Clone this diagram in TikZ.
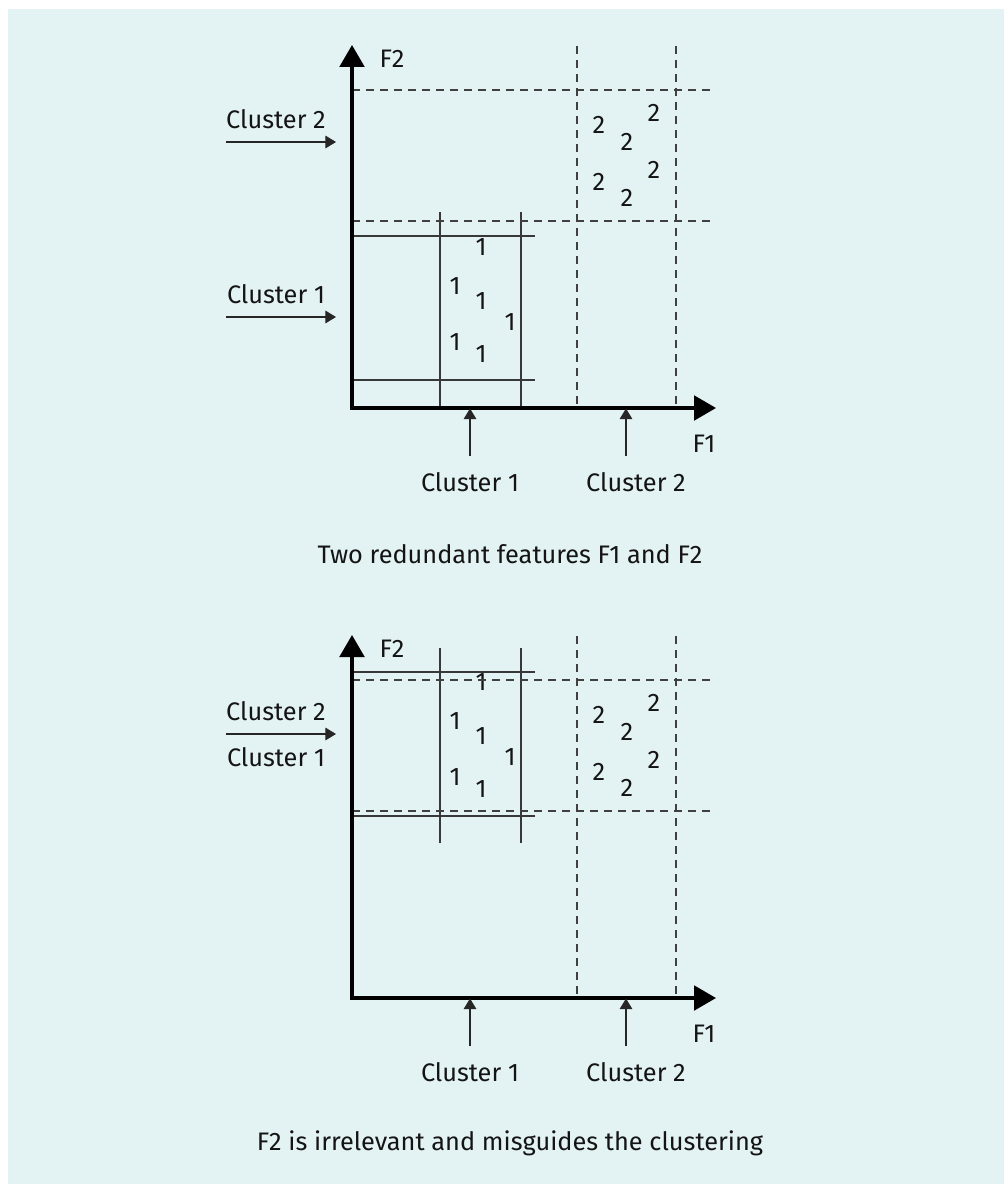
\documentclass[tikz,border=0pt]{standalone}
\usepackage{fontspec}
\setmainfont{Fira Sans}
\usetikzlibrary{arrows.meta}
\definecolor{panelbg}{RGB}{227,242,243}
\definecolor{ink}{RGB}{20,20,20}

% Axes, grid and cluster marks shared by both panels
\newcommand\featureplane[1]{%
  \coordinate (#1o) at (352,408);
  \coordinate (#1ytip) at (352,45);
  \coordinate (#1xtip) at (716,408);
  % dashed bands of cluster 2
  \draw[gridline] (352,90) -- (716,90);
  \draw[gridline] (352,221) -- (716,221);
  \draw[gridline] (577,46) -- (577,408);
  \draw[gridline] (676,46) -- (676,408);
  % points of cluster 2
  \node[pt] (#1t1) at (599,125) {2};
  \node[pt] (#1t2) at (627,142) {2};
  \node[pt] (#1t3) at (654,113) {2};
  \node[pt] (#1t4) at (599,182) {2};
  \node[pt] (#1t5) at (627,198) {2};
  \node[pt] (#1t6) at (654,170) {2};
  % axes
  \draw[axisline] (#1ytip) -- (#1o) -- (#1xtip);
  \node[axlbl] (#1F2) at (392,59) {F2};
  \node[axlbl] (#1F1) at (704,444) {F1};
  % cluster pointers below the F1 axis
  \node[lbl] (#1c1) at (470,482) {Cluster 1};
  \node[lbl] (#1c2) at (636,482) {Cluster 2};
  \coordinate (#1c1a) at (470,456);
  \coordinate (#1c1b) at (470,408.5);
  \coordinate (#1c2a) at (626,456);
  \coordinate (#1c2b) at (626,408.5);
  \draw[pointer] (#1c1a) -- (#1c1b);
  \draw[pointer] (#1c2a) -- (#1c2b);
}

\begin{document}
\begin{tikzpicture}[x=0.75pt,y=-0.75pt,
  lbl/.style={font=\fontsize{19pt}{22pt}\selectfont, text=ink, inner sep=0pt},
  axlbl/.style={font=\fontsize{19pt}{22pt}\selectfont, text=ink, inner sep=0pt},
  pt/.style={font=\fontsize{19pt}{22pt}\selectfont, text=ink, inner sep=0pt},
  caption/.style={font=\fontsize{19pt}{22pt}\selectfont, text=ink, inner sep=0pt},
  axisline/.style={line width=2.4pt, line join=miter,
    {Triangle[length=16.5pt,width=18.5pt]}-{Triangle[length=16.5pt,width=18.5pt]}},
  gridline/.style={line width=0.9pt, draw=black!75, dash pattern=on 6pt off 4.5pt},
  boxline/.style={line width=0.9pt, draw=black!78},
  pointer/.style={line width=0.9pt, draw=black!85, -{Triangle[length=8pt,width=9.5pt]}},
]
\useasboundingbox (0,0) rectangle (1004,1184);
\fill[panelbg] (8,9) rectangle (1004,1184);

% ---------- upper panel: two redundant features ----------
\draw[boxline] (352,236) -- (535,236);
\draw[boxline] (352,380) -- (535,380);
\draw[boxline] (440,212) -- (440,408);
\draw[boxline] (521,212) -- (521,408);
\node[pt] (ao1) at (481,247) {1};
\node[pt] (ao2) at (455,286) {1};
\node[pt] (ao3) at (481,301) {1};
\node[pt] (ao4) at (510,322) {1};
\node[pt] (ao5) at (455,342) {1};
\node[pt] (ao6) at (481,354) {1};
\featureplane{a}
\node[lbl] (aL2) at (276,119) {Cluster 2};
\node[lbl] (aL1) at (276,294) {Cluster 1};
\coordinate (aL2a) at (226,142);
\coordinate (aL2b) at (336,142);
\coordinate (aL1a) at (226,317);
\coordinate (aL1b) at (336,317);
\draw[pointer] (aL2a) -- (aL2b);
\draw[pointer] (aL1a) -- (aL1b);
\node[caption] (acap) at (510,554) {Two redundant features F1 and F2};

% ---------- lower panel: F2 irrelevant ----------
\draw[boxline] (352,672) -- (535,672);
\draw[boxline] (352,816) -- (535,816);
\draw[boxline] (440,648) -- (440,843);
\draw[boxline] (521,648) -- (521,843);
\node[pt] (bo1) at (481,682) {1};
\node[pt] (bo2) at (455,721) {1};
\node[pt] (bo3) at (481,736) {1};
\node[pt] (bo4) at (510,757) {1};
\node[pt] (bo5) at (455,777) {1};
\node[pt] (bo6) at (481,789) {1};
\begin{scope}[shift={(0,590)}]
  \featureplane{b}
\end{scope}
\node[lbl] (bL2) at (276,711) {Cluster 2};
\node[lbl] (bL1) at (276,757) {Cluster 1};
\coordinate (bLa) at (226,734);
\coordinate (bLb) at (336,734);
\draw[pointer] (bLa) -- (bLb);
\node[caption] (bcap) at (510,1143) {F2 is irrelevant and misguides the clustering};
\end{tikzpicture}
\end{document}
